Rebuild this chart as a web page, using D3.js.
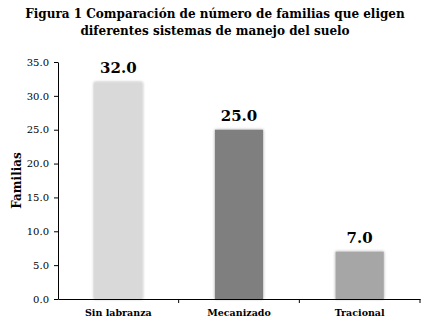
<!DOCTYPE html>
<html>
<head>
<meta charset="utf-8">
<script src="https://cdn.jsdelivr.net/npm/d3@7"></script>
<style>
  body { margin: 0; background: #fff; }
  svg text { font-family: "DejaVu Serif", serif; fill: #000; }
  .title { font-size: 12px; font-weight: bold; }
  .yAxis text { font-size: 10px; }
  .xAxis text { font-size: 9.5px; font-weight: bold; }
  .domain, .tick line { stroke: #000; }
</style>
</head>
<body>
<div id="container"></div>
<script>
/* CONSTANTS AND GLOBALS */
const width = 428,
  height = 321,
  margin = { top: 62, bottom: 22, left: 58, right: 8 }

const categories = ["Sin labranza", "Mecanizado", "Tracional"]
const values = [32.0, 25.0, 7.0]
const colors = ["#d9d9d9", "#7f7f7f", "#a6a6a6"]
const yTicks = [0, 5, 10, 15, 20, 25, 30, 35]
const titleLines = ["Figura 1 Comparación de número de familias que eligen", "diferentes sistemas de manejo del suelo"]

const data = categories.map((c, i) => ({ cat: c, value: values[i], color: colors[i] }))

// + SCALES
const xScale = d3.scaleBand()
  .domain(categories)
  .range([margin.left, width - margin.right])
  .paddingInner(0.6)
  .paddingOuter(0.3)

const yScale = d3.scaleLinear()
  .domain([0, 35])
  .range([height - margin.bottom, margin.top])

// CREATE SVG ELEMENT
const svg = d3.select("#container")
  .append("svg")
  .attr("width", width)
  .attr("height", height)

// soft shadow like the office chart
const defs = svg.append("defs")
const shadow = defs.append("filter").attr("id", "shadow")
  .attr("x", "-20%").attr("y", "-10%").attr("width", "140%").attr("height", "120%")
shadow.append("feDropShadow")
  .attr("dx", 0).attr("dy", 0).attr("stdDeviation", 1.5)
  .attr("flood-color", "#000").attr("flood-opacity", 0.35)

// TITLE
svg.selectAll(".title")
  .data(titleLines)
  .join("text")
  .attr("class", "title")
  .attr("x", 215)
  .attr("y", (d, i) => 18 + i * 17)
  .attr("text-anchor", "middle")
  .text(d => d)

// BARS
svg.selectAll(".bar")
  .data(data)
  .join("rect")
  .attr("class", "bar")
  .attr("x", d => xScale(d.cat))
  .attr("y", d => yScale(d.value))
  .attr("width", xScale.bandwidth())
  .attr("height", d => yScale(0) - yScale(d.value))
  .attr("fill", d => d.color)
  .attr("filter", "url(#shadow)")

// VALUE LABELS
svg.selectAll(".valueLabel")
  .data(data)
  .join("text")
  .attr("class", "valueLabel")
  .attr("x", d => xScale(d.cat) + xScale.bandwidth() / 2)
  .attr("y", d => yScale(d.value) - 9)
  .attr("text-anchor", "middle")
  .style("font-size", "15px")
  .style("font-weight", "bold")
  .text(d => d3.format(".1f")(d.value))

// BUILD AND CALL AXES
const yAxis = d3.axisLeft(yScale)
  .tickValues(yTicks)
  .tickFormat(d3.format(".1f"))
  .tickSize(4)
  .tickSizeOuter(0)

svg.append("g")
  .attr("class", "yAxis")
  .attr("transform", `translate(${margin.left}, 0)`)
  .call(yAxis)
  .call(g => g.selectAll("text").attr("x", -9))

const xAxis = d3.axisBottom(xScale)
  .tickSize(0)
  .tickSizeOuter(0)

const xAxisGroup = svg.append("g")
  .attr("class", "xAxis")
  .attr("transform", `translate(0, ${height - margin.bottom})`)
  .call(xAxis)
xAxisGroup.selectAll("text").attr("dy", "1.5em")

// tick marks sit on the band boundaries
const step = xScale.step()
const bounds = categories.map(c => xScale(c) + xScale.bandwidth() / 2 + step / 2)
xAxisGroup.selectAll(".sep")
  .data(bounds)
  .join("line")
  .attr("class", "sep")
  .attr("x1", d => d).attr("x2", d => d)
  .attr("y1", 0).attr("y2", 4)
  .attr("stroke", "#000")

// Y LABEL
svg.append("text")
  .attr("class", "yLabel")
  .attr("transform", `translate(21, ${(yScale(0) + yScale(35)) / 2}) rotate(-90)`)
  .attr("text-anchor", "middle")
  .style("font-size", "12px")
  .style("font-weight", "bold")
  .text("Familias")
</script>
</body>
</html>
